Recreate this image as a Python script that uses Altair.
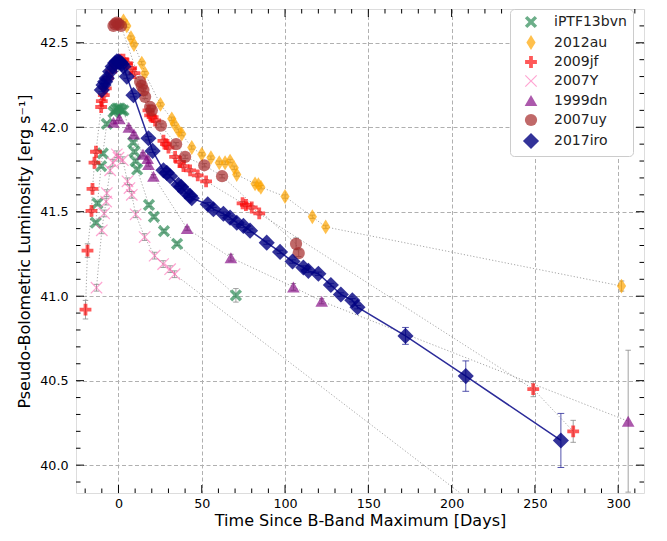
import altair as alt
import pandas as pd

# ---------------- data ----------------
series_names = ["iPTF13bvn", "2012au", "2009jf", "2007Y", "1999dn", "2007uy", "2017iro"]

t_iptf = [-13.6, -12.6, -10.4, -9.4, -7.0, -3.0, -2.0, -1.0, 0.0, 1.0, 2.0, 3.0,
          8.8, 9.6, 10.3, 11.2, 18.3, 21.3, 27.3, 35.2, 70.5]
L_iptf = [41.435, 41.55, 41.77, 41.845, 42.02, 42.09, 42.10, 42.11, 42.11, 42.11, 42.10, 42.10,
          41.91, 41.855, 41.80, 41.75, 41.54, 41.47, 41.385, 41.31, 41.005]
e_iptf = [0.01] * 20 + [0.04]

t_12au = [3.0, 5.0, 7.5, 9.3, 14.0, 15.8, 25.2, 32.0, 33.5, 36.0, 38.0, 44.0, 50.0, 55.5,
          60.5, 64.0, 67.0, 69.5, 71.0, 82.0, 84.0, 85.5, 100.0, 116.4, 124.4, 302.0]
L_12au = [42.63, 42.60, 42.53, 42.49, 42.38, 42.32, 42.135, 42.05, 42.02, 41.98, 41.96, 41.88,
          41.84, 41.82, 41.79, 41.79, 41.80, 41.76, 41.72, 41.665, 41.66, 41.645, 41.59,
          41.47, 41.41, 41.06]
e_12au = [0.01] * 25 + [0.03]

t_09jf = [-19.8, -18.6, -16.2, -15.6, -14.4, -13.5, -10.4, -10.0, -8.8, -7.6, -6.4, -4.4,
          -2.0, 1.0, 3.0, 5.0, 7.6, 9.6, 18.0, 19.0, 20.5, 22.0, 27.0, 28.5, 30.0, 34.0,
          37.0, 39.0, 43.0, 47.6, 52.6, 74.5, 76.5, 80.0, 84.5, 249.0, 273.0]
L_09jf = [40.92, 41.27, 41.505, 41.635, 41.79, 41.855, 42.12, 42.155, 42.19, 42.23, 42.29,
          42.33, 42.37, 42.40, 42.40, 42.38, 42.35, 42.32, 42.10, 42.07, 42.06, 42.04, 41.92,
          41.90, 41.88, 41.825, 41.795, 41.77, 41.745, 41.715, 41.68, 41.55, 41.54, 41.525,
          41.49, 40.45, 40.20]
e_09jf = [0.055, 0.04] + [0.01] * 33 + [0.045, 0.065]

t_07Y = [-13.2, -10.0, -8.6, -7.4, -7.0, -5.0, -3.4, -1.0, 0.0, 2.6, 5.4, 6.6, 8.0, 10.3,
         15.7, 21.7, 26.8, 31.0, 33.7, 260.0]
L_07Y = [41.05, 41.39, 41.49, 41.56, 41.61, 41.745, 41.79, 41.84, 41.82, 41.805, 41.68,
         41.64, 41.60, 41.485, 41.35, 41.24, 41.19, 41.16, 41.13, 39.42]
e_07Y = [0.02] * 19 + [0.0]

t_99dn = [-3.0, 0.5, 6.2, 9.3, 14.7, 17.5, 18.0, 21.0, 41.2, 67.5, 105.0, 122.0, 306.0]
L_99dn = [42.03, 42.05, 42.00, 41.96, 41.84, 41.815, 41.78, 41.71, 41.40, 41.228, 41.055,
          40.97, 40.26]
e_99dn = [0.01] * 9 + [0.02, 0.02, 0.015, 0.42]

t_07uy = [-3.0, -2.0, -1.0, 0.0, 1.5, 13.0, 14.0, 15.0, 16.0, 19.0, 20.0, 25.5, 34.6, 40.0,
          51.5, 62.2, 106.6, 108.2]
L_07uy = [42.60, 42.61, 42.62, 42.61, 42.60, 42.27, 42.245, 42.22, 42.18, 42.12, 42.10,
          42.01, 41.90, 41.825, 41.775, 41.71, 41.31, 41.255]
e_07uy = [0.01] * 16 + [0.035, 0.02]

t_17iro = [-10.0, -9.0, -8.0, -7.0, -5.0, -3.5, -2.0, -1.0, 0.0, 1.0, 2.0, 3.0, 5.0, 9.0,
           18.0, 20.5, 27.0, 29.0, 31.0, 36.0, 37.6, 40.0, 43.0, 44.0, 53.6, 57.0, 63.0,
           67.0, 71.0, 75.0, 79.0, 89.0, 97.0, 104.5, 111.0, 114.0, 120.0, 127.5, 133.5,
           140.4, 143.5, 172.3, 208.5, 265.6]
L_17iro = [42.22, 42.25, 42.27, 42.29, 42.33, 42.36, 42.38, 42.39, 42.39, 42.385, 42.375,
           42.36, 42.30, 42.19, 41.935, 41.86, 41.745, 41.73, 41.71, 41.66, 41.648, 41.62,
           41.594, 41.58, 41.544, 41.515, 41.488, 41.465, 41.435, 41.416, 41.388, 41.317,
           41.262, 41.205, 41.17, 41.15, 41.133, 41.066, 41.01, 40.976, 40.935, 40.765,
           40.527, 40.146]
e_17iro = [0.01] * 41 + [0.05, 0.09, 0.16]

x_major = [0, 50, 100, 150, 200, 250, 300]
x_minor = [-20, -10, 10, 20, 30, 40, 60, 70, 80, 90, 110, 120, 130, 140, 160, 170, 180, 190,
           210, 220, 230, 240, 260, 270, 280, 290, 310]
y_major = [40.0, 40.5, 41.0, 41.5, 42.0, 42.5]
y_minor = [39.9, 40.1, 40.2, 40.3, 40.4, 40.6, 40.7, 40.8, 40.9, 41.1, 41.2, 41.3, 41.4,
           41.6, 41.7, 41.8, 41.9, 42.1, 42.2, 42.3, 42.4, 42.6]

# ---------------- styling ----------------
colors = ["#2e8b57", "#ffa500", "#ff0000", "#ff69b4", "#800080", "#a52a2a", "#000080"]
opac = [0.7, 0.7, 0.65, 0.6, 0.65, 0.7, 0.8]
X_SHAPE = "M-1,-0.6L-0.6,-1L0,-0.4L0.6,-1L1,-0.6L0.4,0L1,0.6L0.6,1L0,0.4L-0.6,1L-1,0.6L-0.4,0Z"
THIN_D = "M0,-1L0.62,0L0,1L-0.62,0Z"
PLUS = ("M-0.32,-1L0.32,-1L0.32,-0.32L1,-0.32L1,0.32L0.32,0.32L0.32,1L-0.32,1L-0.32,0.32"
        "L-1,0.32L-1,-0.32L-0.32,-0.32Z")
THIN_X = ("M-1,-0.86L-0.86,-1L0,-0.14L0.86,-1L1,-0.86L0.14,0L1,0.86L0.86,1L0,0.14L-0.86,1"
          "L-1,0.86L-0.14,0Z")
shapes = [X_SHAPE, THIN_D, PLUS, THIN_X, "triangle-up", "circle", "diamond"]
sizes = [150, 220, 140, 150, 160, 150, 260]
NAVY = "#2b2b99"

ts = [t_iptf, t_12au, t_09jf, t_07Y, t_99dn, t_07uy, t_17iro]
Ls = [L_iptf, L_12au, L_09jf, L_07Y, L_99dn, L_07uy, L_17iro]
es = [e_iptf, e_12au, e_09jf, e_07Y, e_99dn, e_07uy, e_17iro]
rows = []
for k, (name, tt, LL, ee) in enumerate(zip(series_names, ts, Ls, es)):
    for a, b, c in zip(tt, LL, ee):
        rows.append({"sn": name, "k": k, "t": a, "L": b, "err": c, "lo": b - c, "hi": b + c})
df = pd.DataFrame(rows)

W, H = 568, 484
xscale = alt.Scale(domain=[-25.5, 315.5], nice=False, zero=False)
yscale = alt.Scale(domain=[39.835, 42.70], nice=False, zero=False)
FONT = "DejaVu Sans"
xax = alt.Axis(values=x_major, title="Time Since B-Band Maximum [Days]", grid=True,
               gridDash=[4, 2.5], gridColor="#b0b0b0", gridWidth=1, ticks=False, tickSize=0,
               domain=False, labelFontSize=12.7, titleFontSize=16, labelPadding=4,
               titlePadding=3, labelFont=FONT, titleFont=FONT, labelColor="black",
               titleColor="black", titleFontWeight="normal", labelFlush=False)
yax = alt.Axis(values=y_major, format=".1f", title="Pseudo-Bolometric Luminosity [erg s\u207b\u00b9]",
               grid=True, gridDash=[4, 2.5], gridColor="#b0b0b0", gridWidth=1, ticks=False,
               tickSize=0, domain=False, labelFontSize=12.7, titleFontSize=16, labelPadding=8,
               titlePadding=7, labelFont=FONT, titleFont=FONT, labelColor="black",
               titleColor="black", titleFontWeight="normal", labelFlush=False)

X = alt.X("t:Q", scale=xscale, axis=xax)
Y = alt.Y("L:Q", scale=yscale, axis=yax)

leg = alt.Legend(title=None, orient="none", legendX=434, legendY=0, fillColor="white",
                 strokeColor="#cccccc", cornerRadius=4, padding=6, labelFontSize=14,
                 labelFont=FONT, labelColor="#222222", rowPadding=5, symbolOffset=6,
                 labelOffset=14)

base = alt.Chart(df)

dotted = base.transform_filter("datum.sn != '2017iro'").mark_line(
    color="#888888", strokeWidth=1, strokeDash=[1.2, 2], opacity=0.75, clip=True
).encode(x=X, y=Y, detail="sn:N", order="t:Q")

solid = base.transform_filter("datum.sn == '2017iro'").mark_line(
    color=NAVY, strokeWidth=1.5, clip=True
).encode(x=X, y=Y, order="t:Q")

ebar_color = alt.condition("datum.sn == '2017iro'", alt.value(NAVY), alt.value("#8a8a8a"))
ebars = base.transform_filter("datum.err > 0").mark_rule(strokeWidth=1, opacity=0.8, clip=True).encode(
    x=X, y=alt.Y("lo:Q", scale=yscale, axis=yax), y2="hi:Q", color=ebar_color)
caps = base.transform_filter("datum.err > 0").transform_fold(
    ["lo", "hi"], as_=["which", "yv"]
).mark_point(shape="M-1,0L1,0", filled=False, strokeWidth=1, opacity=0.8, clip=True).encode(
    x=X, y=alt.Y("yv:Q", scale=yscale, axis=yax), color=ebar_color,
    size=alt.condition("datum.sn == '2017iro'", alt.value(45), alt.value(30)))

points = base.mark_point(filled=True, strokeWidth=0, clip=True).encode(
    x=X, y=Y,
    color=alt.Color("sn:N", scale=alt.Scale(domain=series_names, range=colors), legend=leg),
    shape=alt.Shape("sn:N", scale=alt.Scale(domain=series_names, range=shapes), legend=leg),
    size=alt.Size("sn:N", scale=alt.Scale(type="ordinal", domain=series_names, range=sizes), legend=leg),
    opacity=alt.Opacity("sn:N", scale=alt.Scale(type="ordinal", domain=series_names, range=opac), legend=leg),
    order=alt.Order("k:Q"),
)


def xticks(vals, length):
    d = alt.Chart(pd.DataFrame({"t": vals}))
    xx = alt.X("t:Q", scale=xscale, axis=xax)
    bot = d.mark_rule(color="black", strokeWidth=1).encode(x=xx, y=alt.value(H), y2=alt.value(H - length))
    top = d.mark_rule(color="black", strokeWidth=1).encode(x=xx, y=alt.value(0), y2=alt.value(length))
    return [bot, top]


def yticks(vals, length):
    d = alt.Chart(pd.DataFrame({"L": vals}))
    yy = alt.Y("L:Q", scale=yscale, axis=yax)
    left = d.mark_rule(color="black", strokeWidth=1).encode(y=yy, x=alt.value(0), x2=alt.value(length))
    right = d.mark_rule(color="black", strokeWidth=1).encode(y=yy, x=alt.value(W), x2=alt.value(W - length))
    return [left, right]


tick_layers = xticks(x_major, 8) + xticks(x_minor, 4.5) + yticks(y_major, 8) + yticks(y_minor, 4.5)

chart = alt.layer(dotted, solid, ebars, caps, points, *tick_layers).properties(
    width=W, height=H, padding={"left": 8, "top": 0, "right": 5, "bottom": 0}
).configure_view(stroke="black", strokeWidth=1).configure(font=FONT)

chart.save("out.html", embed_options={"renderer": "svg", "actions": False})
